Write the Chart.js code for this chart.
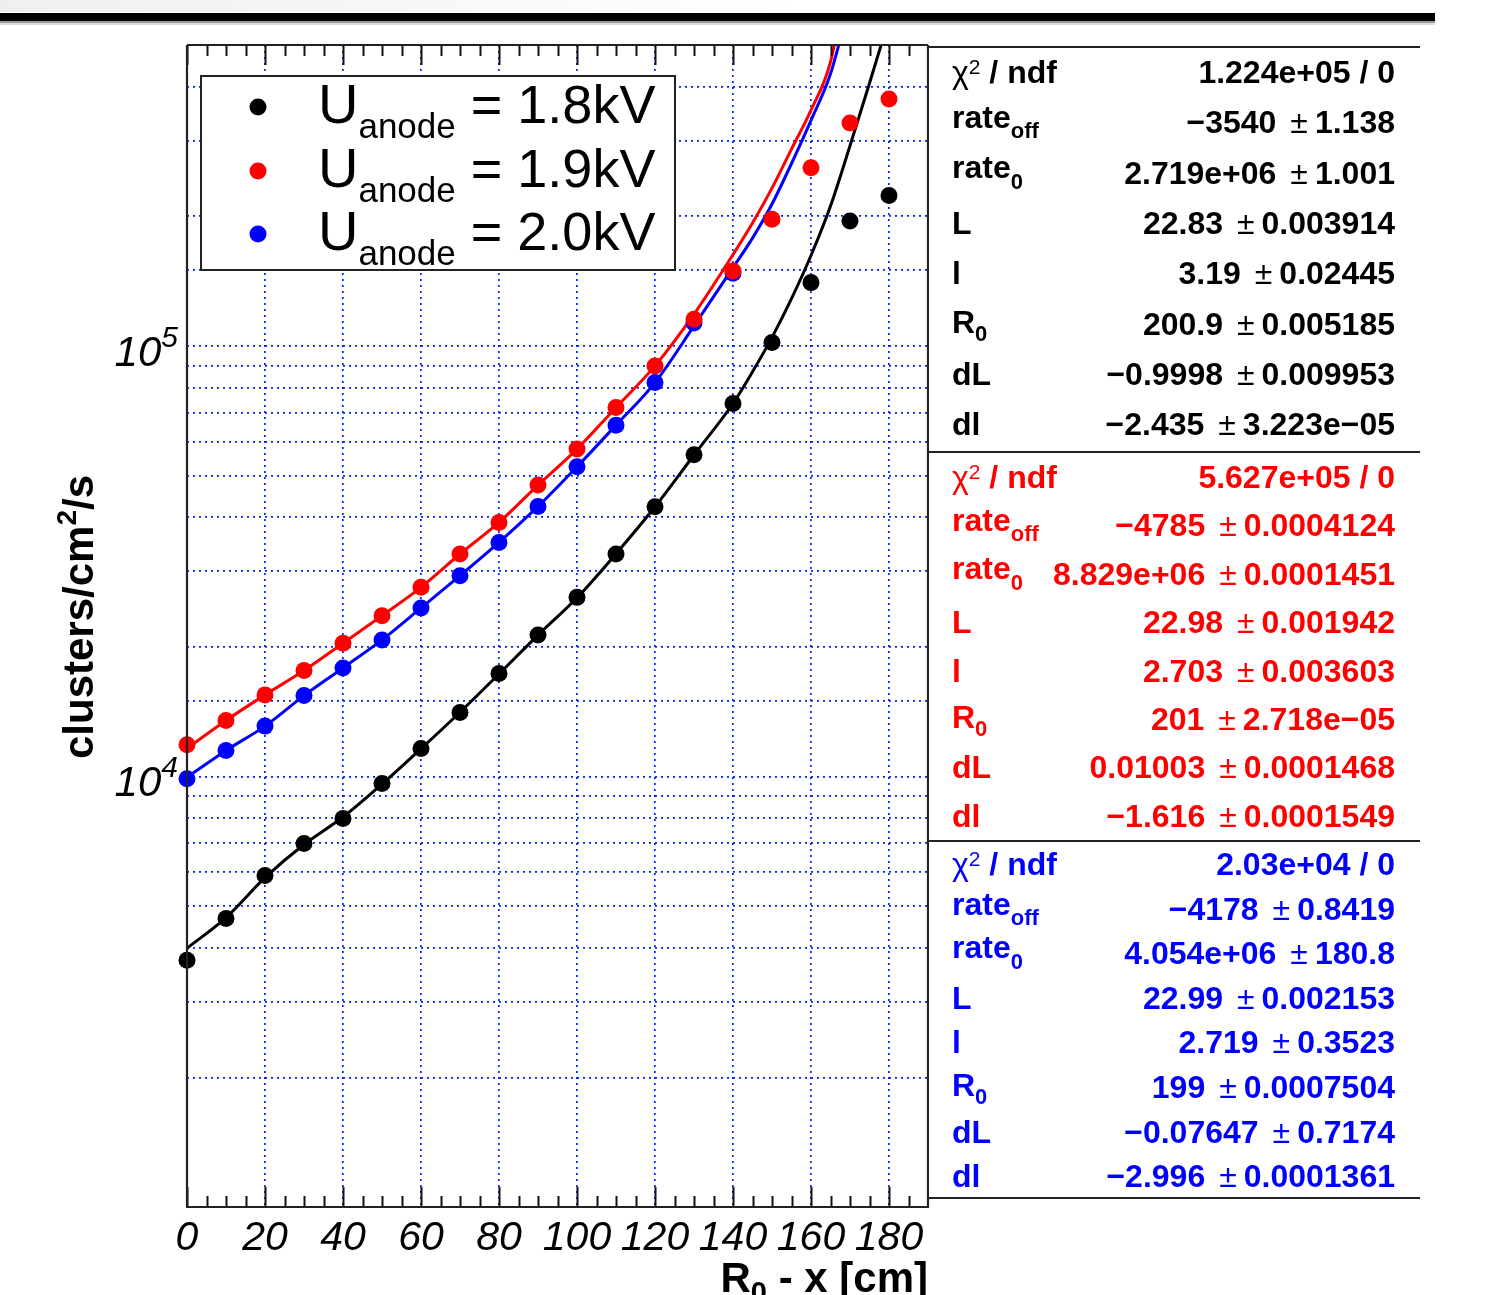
<!DOCTYPE html>
<html><head><meta charset="utf-8">
<script src="https://cdn.jsdelivr.net/npm/chart.js@4.4.0/dist/chart.umd.min.js"></script>
<style>html,body{margin:0;padding:0;background:#fff;overflow:hidden}#wrap{width:1488px;height:1295px;position:relative}</style>
</head><body><div id="wrap"><canvas id="c" width="1488" height="1295"></canvas></div>
<script>
// ---------- data ----------
const xPos = [0,10,20,30,40,50,60,70,80,90,100,110,120,130,140,150,160,170,180];
const rate18 = [3740,4680,5890,6990,7990,9630,11610,14080,17340,21320,26060,32860,42310,55850,73470,101800,140300,195000,223700];
const rate19 = [11850,13490,15470,17620,20390,23630,27500,32860,38900,47520,57600,71950,89870,115300,149300,196800,259300,329600,374800];
const xPos20 = [0,10,20,30,40,50,60,70,80,90,100,110,120,130,140];
const rate20 = [9880,11490,13090,15410,17870,20760,24630,29270,34970,42380,52400,65460,82190,113000,147600];

const fitX18 = [0,10,20,30,40,50,60,70,80,90,100,110,120,130,140,145,150,155,160,165,170,175,180];
const fit18  = [3990,4700,5820,6950,8050,9600,11600,14100,17300,21300,26000,32900,42300,55800,73500,87100,104700,128800,162200,211300,291700,407400,575000];
const fitX19 = [0,10,20,30,40,50,60,70,80,90,100,110,120,130,140,145,150,155,160,165,170];
const fit19  = [11620,13490,15470,17620,20390,23630,27500,32860,38900,47520,57600,71950,89870,118500,163000,193000,232600,286600,352900,457000,780000];
const fitX20 = [0,10,20,30,40,50,60,70,80,90,100,110,120,130,140,145,150,155,160,165,170];
const fit20  = [9950,11490,13090,15410,17870,20760,24630,29270,34970,42380,52400,65460,82190,111300,152000,178000,213600,265300,334200,428600,630000];

const xTickValues = [0,20,40,60,80,100,120,140,160,180];
const xTickLabels = ['0','20','40','60','80','100','120','140','160','180'];
const yTickValues = [10000,100000];
const yTickExp = ['4','5'];

const legendLabels = ['1.8kV','1.9kV','2.0kV'];
const statNames = ['chi2','rate_off','rate_0','L','l','R_0','dL','dl'];
const stats18 = ['1.224e+05 / 0','\u22123540 \u00b1 1.138','2.719e+06 \u00b1 1.001','22.83 \u00b1 0.003914','3.19 \u00b1 0.02445','200.9 \u00b1 0.005185','\u22120.9998 \u00b1 0.009953','\u22122.435 \u00b1 3.223e\u221205'];
const stats19 = ['5.627e+05 / 0','\u22124785 \u00b1 0.0004124','8.829e+06 \u00b1 0.0001451','22.98 \u00b1 0.001942','2.703 \u00b1 0.003603','201 \u00b1 2.718e\u221205','0.01003 \u00b1 0.0001468','\u22121.616 \u00b1 0.0001549'];
const stats20 = ['2.03e+04 / 0','\u22124178 \u00b1 0.8419','4.054e+06 \u00b1 180.8','22.99 \u00b1 0.002153','2.719 \u00b1 0.3523','199 \u00b1 0.0007504','\u22120.07647 \u00b1 0.7174','\u22122.996 \u00b1 0.0001361'];

// ---------- helpers ----------
const F = '"Liberation Sans", Arial, Helvetica, sans-serif';
const pts = (xs, ys) => xs.map((x, i) => ({x: x, y: ys[i]}));
function fnt(p){ return (p.style||'normal') + ' ' + (p.weight||'normal') + ' ' + p.size + 'px ' + F; }
function rich(ctx, parts, x, y, align){
  let w = 0;
  parts.forEach(p => { ctx.font = fnt(p); p.w = (p.t === '' ? 0 : ctx.measureText(p.t).width) + (p.gap||0); w += p.w; });
  let cx = align === 'right' ? x - w : (align === 'center' ? x - w/2 : x);
  ctx.textAlign = 'left'; ctx.textBaseline = 'alphabetic';
  parts.forEach(p => { ctx.font = fnt(p); if (p.t) ctx.fillText(p.t, cx, y + (p.dy||0)); cx += p.w; });
  return w;
}
function statLabel(name){
  const B = {size:32, weight:'bold'};
  const S = {size:22, weight:'bold'};
  switch(name){
    case 'chi2': return [{t:'\u03c7', size:32}, {t:'2', size:21, dy:-9}, Object.assign({t:' / ndf'}, B)];
    case 'rate_off': return [Object.assign({t:'rate', dy:-5}, B), Object.assign({t:'off', dy:5}, S)];
    case 'rate_0': return [Object.assign({t:'rate', dy:-6}, B), Object.assign({t:'0', dy:5}, S)];
    case 'R_0': return [Object.assign({t:'R', dy:-2}, B), Object.assign({t:'0', dy:6}, S)];
    default: return [Object.assign({t:name}, B)];
  }
}
function statValue(s){
  const i = s.indexOf(' \u00b1 ');
  if (i < 0) return [{t:s, size:32, weight:'bold'}];
  return [
    {t:s.slice(0, i), size:32, weight:'bold'},
    {t:'', size:32, gap:14},
    {t:'\u00b1', size:32},
    {t:'', size:32, gap:7},
    {t:s.slice(i + 3), size:32, weight:'bold'}
  ];
}

const deco = {
  id: 'deco',
  beforeDraw(chart){
    const ctx = chart.ctx;
    ctx.save();
    ctx.fillStyle = '#fff';
    ctx.fillRect(0, 0, chart.width, chart.height);
    const g = ctx.createLinearGradient(0, 0, 800, 0);
    g.addColorStop(0, '#efefef'); g.addColorStop(1, '#ffffff');
    ctx.fillStyle = g; ctx.fillRect(0, 0, 800, 12);
    ctx.fillStyle = '#000'; ctx.fillRect(0, 13, 1435, 8);
    ctx.fillStyle = '#999'; ctx.fillRect(0, 21, 1435, 2);
    ctx.fillStyle = '#ddd'; ctx.fillRect(0, 23, 1435, 2);
    ctx.restore();
  },
  afterDraw(chart){
    const ctx = chart.ctx, a = chart.chartArea;
    const xs = chart.scales.x, ys = chart.scales.y;
    ctx.save();
    // ticks on x axis (bottom and top)
    ctx.strokeStyle = '#111'; ctx.lineWidth = 2;
    ctx.beginPath();
    for (let v = 0; v <= 185; v += 5){
      const px = Math.round(xs.getPixelForValue(v)) + 0.5;
      const len = (v % 20 === 0) ? 20 : 11;
      ctx.moveTo(px, a.bottom); ctx.lineTo(px, a.bottom - len);
      ctx.moveTo(px, a.top); ctx.lineTo(px, a.top + len);
    }
    ctx.stroke();
    // frame
    ctx.strokeStyle = '#222'; ctx.lineWidth = 2.2;
    ctx.beginPath();
    ctx.moveTo(a.left, a.top); ctx.lineTo(a.right, a.top);
    ctx.moveTo(a.left, a.top); ctx.lineTo(a.left, a.bottom);
    ctx.moveTo(a.left - 1, a.bottom); ctx.lineTo(a.right + 1, a.bottom);
    ctx.moveTo(a.right, a.top); ctx.lineTo(a.right, a.bottom);
    ctx.stroke();

    // x tick labels
    ctx.fillStyle = '#000';
    xTickValues.forEach((v, i) => {
      rich(ctx, [{t:xTickLabels[i], size:41, style:'italic'}], xs.getPixelForValue(v), a.bottom + 43, 'center');
    });
    // y tick labels
    yTickValues.forEach((v, i) => {
      const py = ys.getPixelForValue(v);
      rich(ctx, [{t:'10', size:42, style:'italic'}, {t:yTickExp[i], size:30, style:'italic', dy:-19}], 178, py + 20, 'right');
    });
    // axis titles
    rich(ctx, [{t:'R', size:42, weight:'bold'}, {t:'0', size:29, weight:'bold', dy:10}, {t:' - x [cm]', size:42, weight:'bold'}], a.right, 1292, 'right');
    ctx.save();
    ctx.translate(93, 617); ctx.rotate(-Math.PI/2);
    rich(ctx, [{t:'clusters/cm', size:42, weight:'bold'}, {t:'2', size:28, weight:'bold', dy:-17}, {t:'/s', size:42, weight:'bold'}], 0, 0, 'center');
    ctx.restore();

    // legend
    const lx = 201, ly = 76, lw = 474, lh = 194;
    ctx.fillStyle = '#fff'; ctx.fillRect(lx, ly, lw, lh);
    ctx.strokeStyle = '#222'; ctx.lineWidth = 2; ctx.strokeRect(lx, ly, lw, lh);
    const lcol = ['#000', '#ff0000', '#0000ff'];
    const lbase = [123, 187, 250];
    legendLabels.forEach((lab, i) => {
      ctx.fillStyle = lcol[i];
      ctx.beginPath(); ctx.arc(258, lbase[i] - 16, 8.5, 0, Math.PI*2); ctx.fill();
      ctx.fillStyle = '#000';
      rich(ctx, [{t:'U', size:56}, {t:'anode', size:35, dy:15}, {t:' = ' + lab, size:54}], 318, lbase[i], 'left');
    });

    // stats boxes
    const boxes = [
      {top:47, bottom:452, b0:83, step:50.3, color:'#000', vals:stats18},
      {top:452, bottom:841, b0:488, step:48.4, color:'#ff0000', vals:stats19},
      {top:841, bottom:1198, b0:875, step:44.6, color:'#0000ff', vals:stats20}
    ];
    boxes.forEach(bx => {
      ctx.fillStyle = '#fff'; ctx.fillRect(a.right + 1, bx.top, 1420 - a.right, bx.bottom - bx.top);
      ctx.strokeStyle = '#222'; ctx.lineWidth = 2;
      ctx.beginPath();
      ctx.moveTo(a.right, bx.top); ctx.lineTo(1420, bx.top);
      ctx.moveTo(a.right, bx.bottom); ctx.lineTo(1420, bx.bottom);
      ctx.moveTo(a.right, bx.top); ctx.lineTo(a.right, bx.bottom);
      ctx.stroke();
      ctx.fillStyle = bx.color;
      statNames.forEach((n, r) => {
        const by = bx.b0 + r * bx.step;
        rich(ctx, statLabel(n), 952, by, 'left');
        rich(ctx, statValue(bx.vals[r]), 1395, by, 'right');
      });
    });
    ctx.restore();
  }
};

const gridOpts = {color:'#0022ff', lineWidth:1.7, drawTicks:false};
const borderOpts = {display:false, dash:[2,4]};

new Chart(document.getElementById('c').getContext('2d'), {
  type: 'scatter',
  data: {
    datasets: [
      {label:'U=1.9kV', data:pts(xPos, rate19), backgroundColor:'#ff0000', borderColor:'#ff0000', borderWidth:0, pointRadius:8.5, pointHoverRadius:8.5, showLine:false, order:0, clip:false},
      {label:'U=2.0kV', data:pts(xPos20, rate20), backgroundColor:'#0000ff', borderColor:'#0000ff', borderWidth:0, pointRadius:8.5, pointHoverRadius:8.5, showLine:false, order:1, clip:false},
      {label:'U=1.8kV', data:pts(xPos, rate18), backgroundColor:'#000000', borderColor:'#000000', borderWidth:0, pointRadius:8.5, pointHoverRadius:8.5, showLine:false, order:2, clip:false},
      {type:'line', label:'fit 1.9kV', data:pts(fitX19, fit19), borderColor:'#ff0000', borderWidth:3, pointRadius:0, showLine:true, fill:false, cubicInterpolationMode:'monotone', clip:0, order:4},
      {type:'line', label:'fit 2.0kV', data:pts(fitX20, fit20), borderColor:'#0000ff', borderWidth:3, pointRadius:0, showLine:true, fill:false, cubicInterpolationMode:'monotone', clip:0, order:5},
      {type:'line', label:'fit 1.8kV', data:pts(fitX18, fit18), borderColor:'#000000', borderWidth:3, pointRadius:0, showLine:true, fill:false, cubicInterpolationMode:'monotone', clip:0, order:3}
    ]
  },
  options: {
    responsive:false, animation:false, events:[], devicePixelRatio:1,
    layout:{padding:{left:187, top:45, right:560, bottom:88}},
    plugins:{legend:{display:false}, tooltip:{enabled:false}, title:{display:false}},
    scales:{
      x:{type:'linear', min:0, max:190, ticks:{display:false, stepSize:20, includeBounds:false}, grid:gridOpts, border:borderOpts},
      y:{type:'logarithmic', min:1000, max:500000, ticks:{display:false}, grid:gridOpts, border:borderOpts}
    }
  },
  plugins:[deco]
});
</script></body></html>
